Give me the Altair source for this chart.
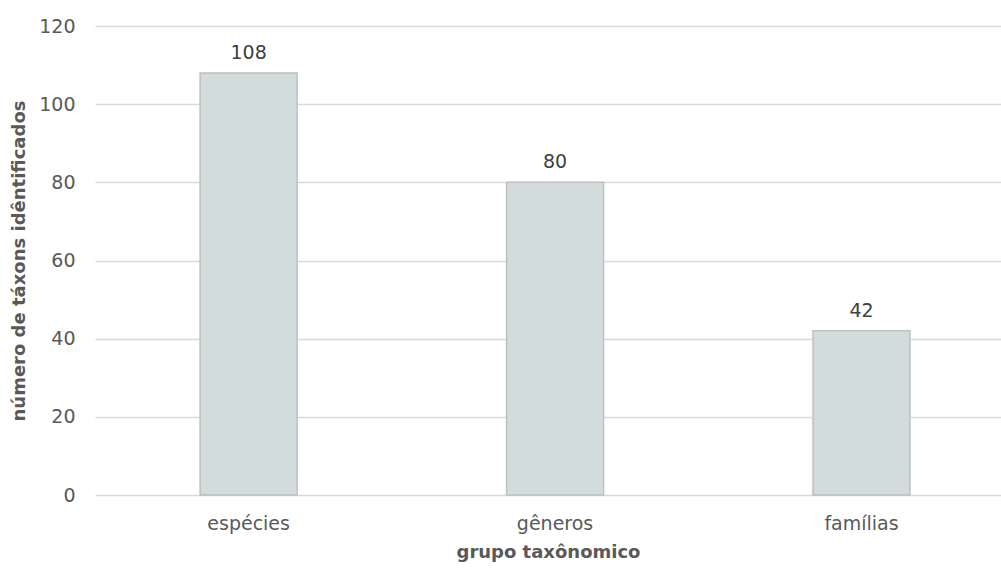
import altair as alt
import pandas as pd

# Number of identified taxa per taxonomic rank
grupos = ["espécies", "gêneros", "famílias"]
valores = [108, 80, 42]

df = pd.DataFrame({"grupo": grupos, "valor": valores})

FONT = "DejaVu Sans"
TEXT = "#595959"

base = alt.Chart(df).encode(
    x=alt.X(
        "grupo:N",
        sort=grupos,
        title="grupo taxônomico",
        scale=alt.Scale(paddingInner=0.6835, paddingOuter=0.32, align=0.536),
        axis=alt.Axis(
            labelAngle=0,
            labelFont=FONT,
            labelFontSize=19,
            labelColor=TEXT,
            labelPadding=19,
            ticks=False,
            domain=False,
            titleFont=FONT,
            titleFontSize=18,
            titleFontWeight="bold",
            titleColor=TEXT,
            titlePadding=10,
        ),
    ),
    y=alt.Y(
        "valor:Q",
        title="número de táxons idêntificados",
        scale=alt.Scale(domain=[0, 120], nice=False),
        axis=alt.Axis(
            values=[0, 20, 40, 60, 80, 100, 120],
            labelFont=FONT,
            labelFontSize=19,
            labelColor=TEXT,
            labelPadding=20,
            ticks=False,
            domain=False,
            gridColor="#d9d9d9",
            gridWidth=1.5,
            titleFont=FONT,
            titleFontSize=18,
            titleFontWeight="bold",
            titleColor=TEXT,
            titlePadding=10,
        ),
    ),
)

bars = base.mark_bar(color="#d3dcdd", stroke="#bfbfbf", strokeWidth=1.5)

labels = base.mark_text(
    baseline="bottom", dy=-10, font=FONT, fontSize=19, color="#404040"
).encode(text="valor:Q")

chart = (
    (bars + labels)
    .properties(
        width=906,
        height=469,
        autosize=alt.AutoSizeParams(type="none"),
        padding={"left": 95, "top": 26, "right": 0, "bottom": 73},
        background="white",
    )
    .configure_view(stroke=None)
)

chart.save("out.html", embed_options={"renderer": "svg", "actions": False})
